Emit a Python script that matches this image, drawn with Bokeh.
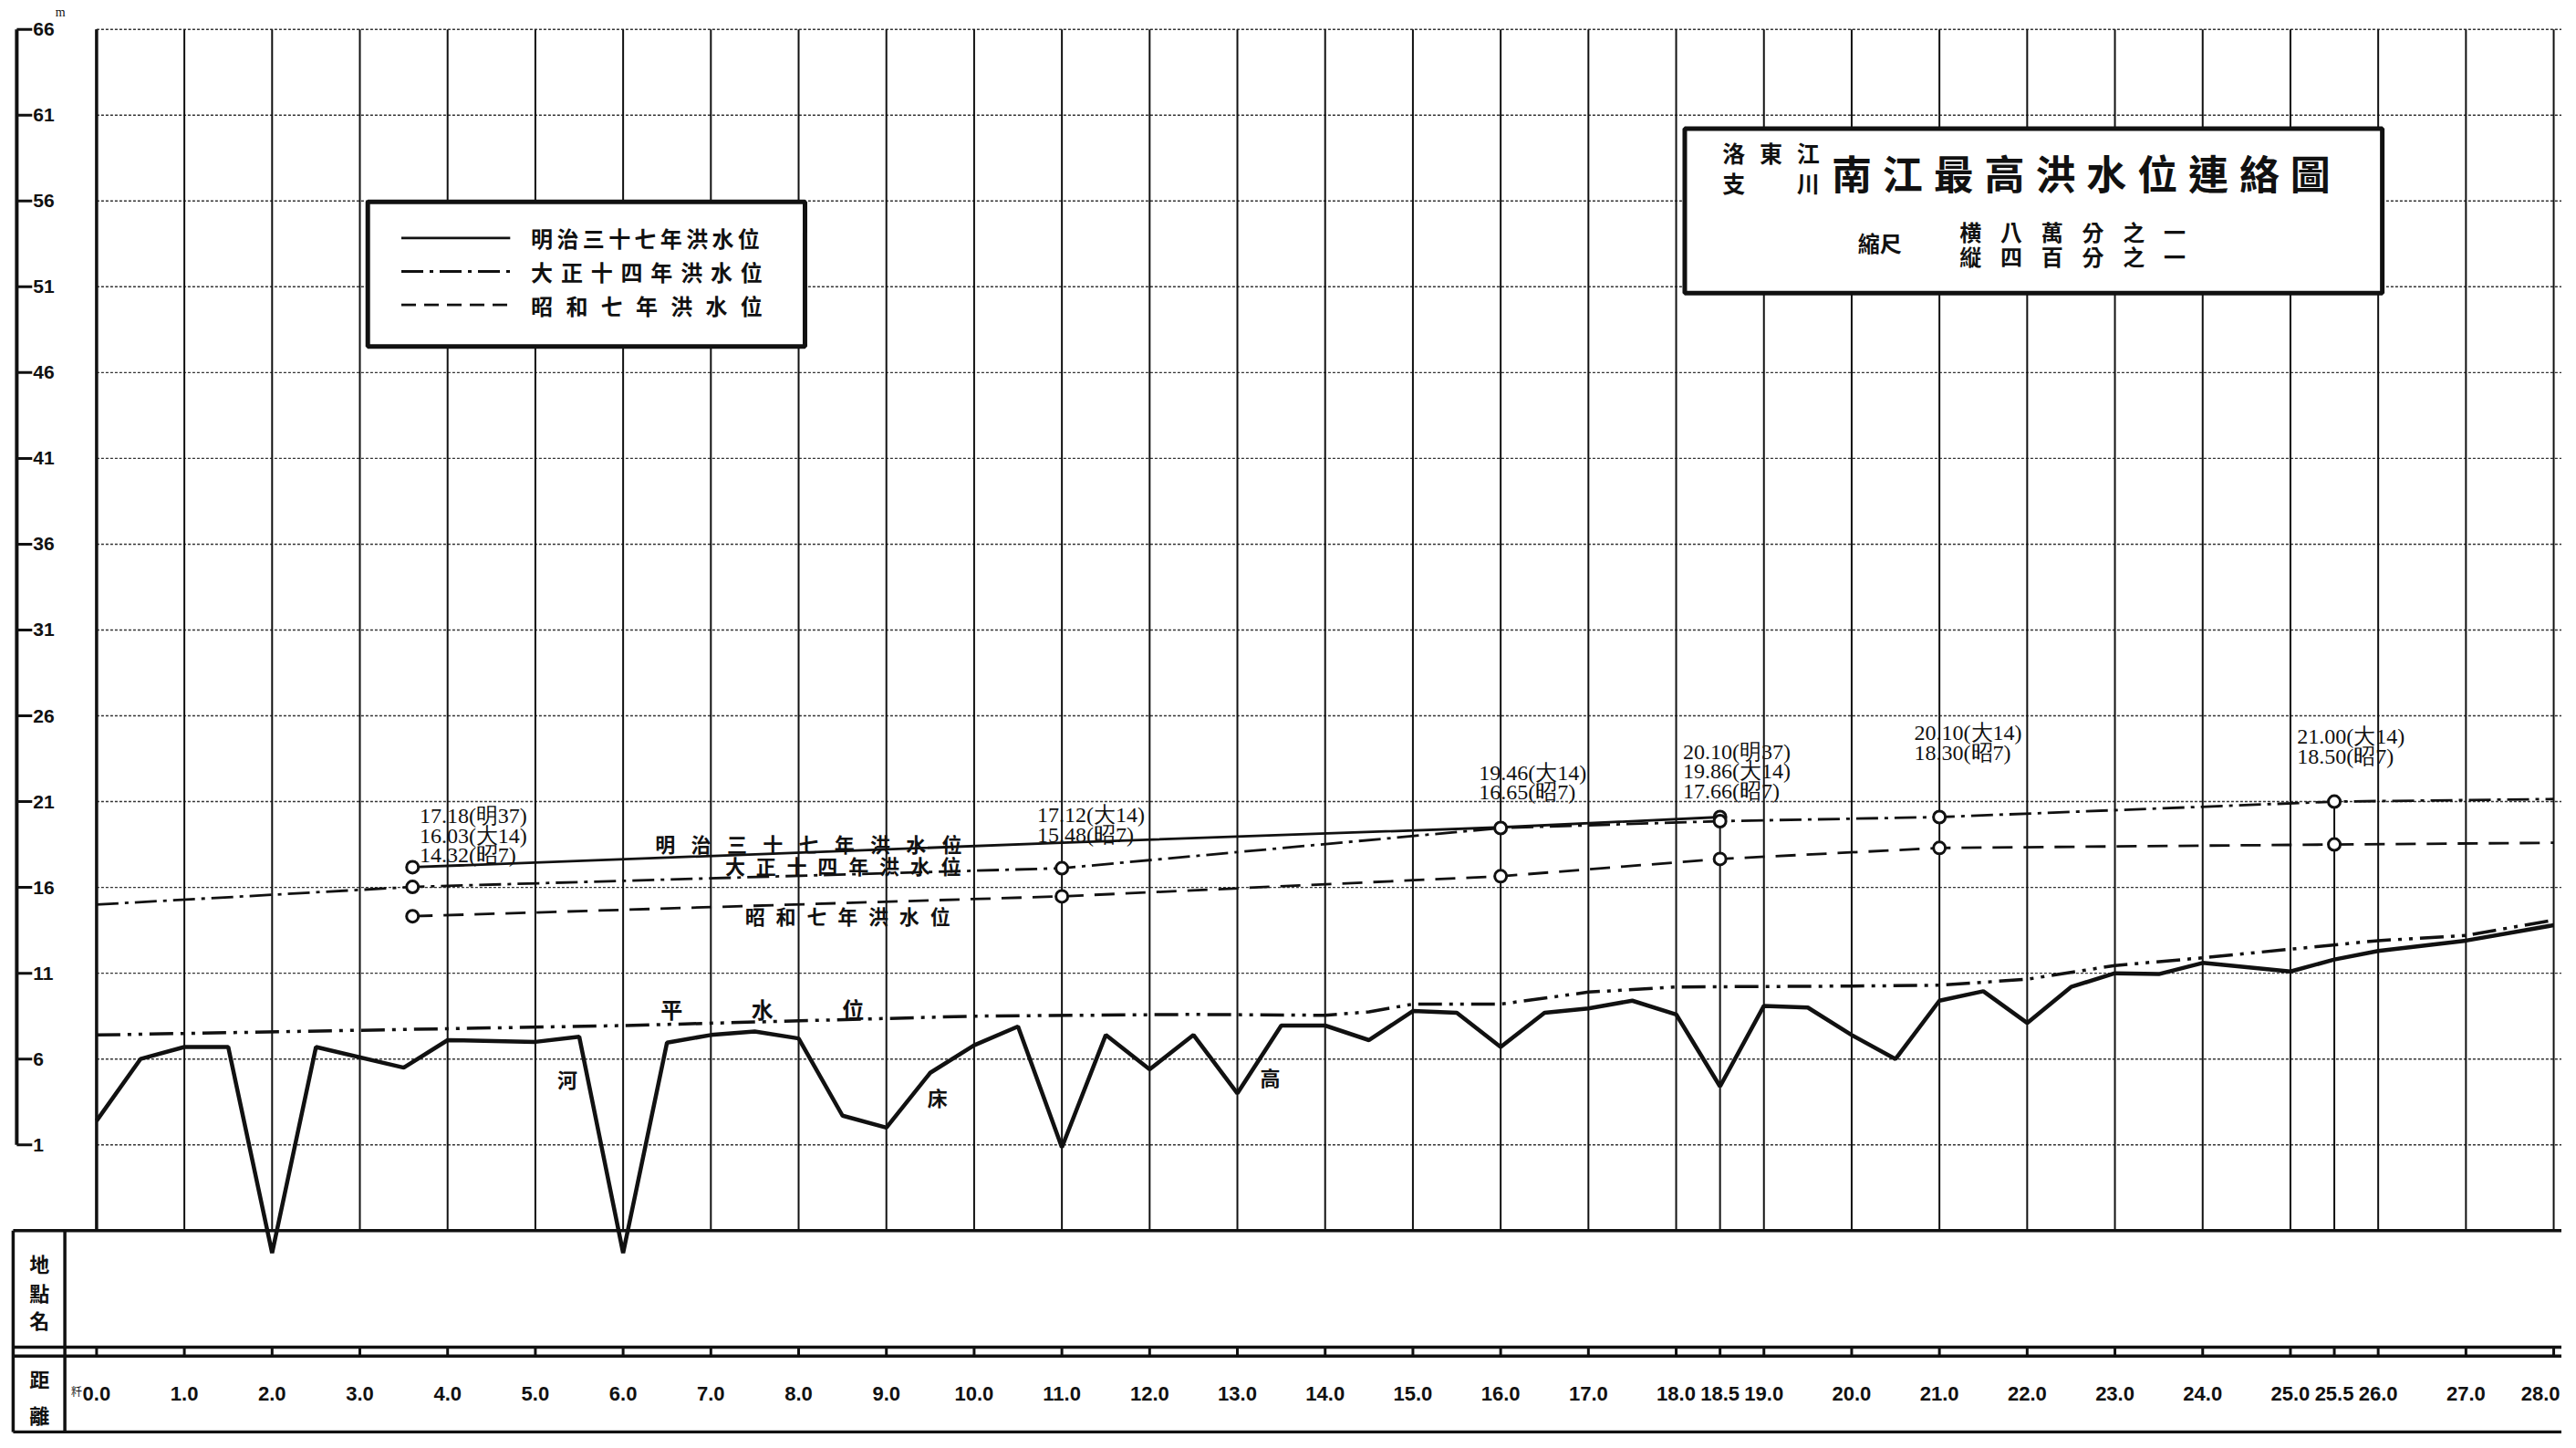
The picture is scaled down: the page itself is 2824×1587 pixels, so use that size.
import numpy as np
from bokeh.plotting import figure
from bokeh.models import Range1d
from bokeh.core.properties import value
from bokeh.embed import file_html
from bokeh.resources import INLINE

# ---------------- data ----------------
y_ticks = [1, 6, 11, 16, 21, 26, 31, 36, 41, 46, 51, 56, 61, 66]
y_tick_labels = [str(v) for v in y_ticks]

dist_ticks = [0, 1, 2, 3, 4, 5, 6, 7, 8, 9, 10, 11, 12, 13, 14, 15, 16, 17, 18, 18.5,
              19, 20, 21, 22, 23, 24, 25, 25.5, 26, 27, 28]
dist_labels = ["%.1f" % d for d in dist_ticks]

# river bed (河床高)
bed_km = [0.0, 0.5, 1.0, 1.5, 2.0, 2.5, 3.5, 4.0, 5.0, 5.5, 6.0, 6.5, 7.0, 7.5, 8.0,
          8.5, 9.0, 9.5, 10.0, 10.5, 11.0, 11.5, 12.0, 12.5, 13.0, 13.5, 14.0, 14.5,
          15.0, 15.5, 16.0, 16.5, 17.0, 17.5, 18.0, 18.5, 19.0, 19.5, 20.0, 20.5,
          21.0, 21.5, 22.0, 22.5, 23.0, 23.5, 24.0, 25.0, 25.5, 26.0, 27.0, 28.0]
bed_m = [2.4, 6.0, 6.7, 6.7, -5.3, 6.7, 5.5, 7.1, 7.0, 7.3, -5.3, 6.95, 7.4, 7.6, 7.2,
         2.7, 2.0, 5.2, 6.8, 7.9, 0.85, 7.4, 5.4, 7.4, 4.0, 7.95, 7.95, 7.1,
         8.8, 8.7, 6.7, 8.7, 8.95, 9.4, 8.6, 4.4, 9.1, 9.0, 7.4, 6.0,
         9.4, 9.95, 8.1, 10.2, 11.0, 10.95, 11.6, 11.1, 11.8, 12.3, 12.9, 13.8]

# mean water level (平水位)
mean_km = [0.0, 6.0, 10.0, 12.5, 14.0, 14.5, 15.0, 16.0, 17.0, 18.0, 20.0, 21.0,
           22.0, 23.0, 24.0, 25.0, 26.0, 27.0, 28.0]
mean_m = [7.4, 7.95, 8.5, 8.6, 8.55, 8.75, 9.2, 9.2, 9.9, 10.2, 10.25, 10.3,
          10.65, 11.45, 11.9, 12.4, 12.9, 13.2, 14.1]

# flood of Meiji 37 (明治三十七年洪水位)
m37_km = [3.6, 11.0, 16.0, 18.5]
m37_m = [17.18, 18.6, 19.5, 20.10]
m37_pts_km = [3.6, 18.5]
m37_pts_m = [17.18, 20.10]

# flood of Taisho 14 (大正十四年洪水位)
t14_km = [0.0, 3.6, 11.0, 16.0, 18.5, 21.0, 25.5, 28.0]
t14_m = [15.0, 16.03, 17.12, 19.46, 19.86, 20.10, 21.00, 21.15]
t14_pts_km = [3.6, 11.0, 16.0, 18.5, 21.0, 25.5]
t14_pts_m = [16.03, 17.12, 19.46, 19.86, 20.10, 21.00]

# flood of Showa 7 (昭和七年洪水位)
s7_km = [3.6, 11.0, 16.0, 18.5, 21.0, 25.5, 28.0]
s7_m = [14.32, 15.48, 16.65, 17.66, 18.30, 18.50, 18.6]
s7_pts_km = [3.6, 11.0, 16.0, 18.5, 21.0, 25.5]
s7_pts_m = [14.32, 15.48, 16.65, 17.66, 18.30, 18.50]

# ---------------- layout helpers (reference pixel -> data) ----------------
def kx(px):
    return (px - 106.0) / 96.75

def my(py):
    return 1.0 + (1267.0 - py) / 19.0

CJK = "Noto Sans CJK TC"
SANS = "Liberation Sans"
SERIF = "Liberation Serif"
INK = "#111111"

p = figure(width=2808, height=1571,
           x_range=Range1d(kx(0), kx(2824)), y_range=Range1d(my(1587), my(0)),
           output_backend="svg", toolbar_location=None,
           x_axis_type=None, y_axis_type=None, min_border=0)
p.outline_line_color = None
p.background_fill_color = "white"
p.border_fill_color = "white"

X_END = kx(2824)
TOP = y_ticks[-1]
BOT = my(1362)

# horizontal grid (dotted)
p.multi_line(xs=[[0, X_END] for _ in y_ticks], ys=[[v, v] for v in y_ticks],
             line_color="#333333", line_width=1.4, line_dash="3 2")

# vertical grid at whole km
whole = [d for d in dist_ticks if float(d).is_integer()]
p.multi_line(xs=[[d, d] for d in whole], ys=[[BOT, TOP] for _ in whole],
             line_color=INK, line_width=2)
p.line([0, 0], [BOT, TOP], line_color=INK, line_width=3.5)

# half-km station verticals (from flood mark down)
half = [d for d in dist_ticks if not float(d).is_integer()]
half_top = [max([v for k, v in zip(t14_pts_km + m37_pts_km, t14_pts_m + m37_pts_m) if k == d]) for d in half]
p.multi_line(xs=[[d, d] for d in half], ys=[[BOT, t] for t in half_top],
             line_color=INK, line_width=2)

# bottom table frame
for yy in (1362, 1491, 1501, 1585):
    p.line([kx(14), X_END], [my(yy), my(yy)], line_color=INK, line_width=3.5)
for xx in (14, 71):
    p.line([kx(xx), kx(xx)], [my(1362), my(1585)], line_color=INK, line_width=3.5)
p.multi_line(xs=[[d, d] for d in dist_ticks], ys=[[my(1491), my(1501)] for _ in dist_ticks],
             line_color=INK, line_width=3)

# left y axis (drawn scale)
ax_x = kx(18)
p.line([ax_x, ax_x], [y_ticks[0], y_ticks[-1]], line_color=INK, line_width=4)
p.multi_line(xs=[[ax_x, kx(35)] for _ in y_ticks], ys=[[v, v] for v in y_ticks],
             line_color=INK, line_width=3)
p.text(x=[kx(36)] * len(y_ticks), y=y_ticks, text=y_tick_labels,
       text_font=value(SANS), text_font_size="21px", text_font_style="bold",
       text_align="left", text_baseline="middle", text_color=INK)
p.text(x=[kx(66)], y=[my(13)], text=["m"], text_font=value(SERIF),
       text_font_size="14px", text_align="center", text_baseline="middle", text_color=INK)

# distance labels (last one kept inside the page edge)
p.text(x=dist_ticks[:-1], y=[my(1543)] * (len(dist_ticks) - 1), text=dist_labels[:-1],
       text_font=value(SANS), text_font_size="22px", text_font_style="bold",
       text_align="center", text_baseline="middle", text_color=INK)
p.text(x=[kx(2822)], y=[my(1543)], text=dist_labels[-1:],
       text_font=value(SANS), text_font_size="22px", text_font_style="bold",
       text_align="right", text_baseline="middle", text_color=INK)
p.text(x=[kx(84)], y=[my(1540)], text=["粁"], text_font=value(CJK),
       text_font_size="12px", text_align="center", text_baseline="middle", text_color=INK)

def spaced(text, x0, pitch, y, size, bold=True):
    n = len(text)
    p.text(x=[kx(x0 + i * pitch) for i in range(n)], y=[my(y)] * n, text=list(text),
           text_font=value(CJK), text_font_size="%dpx" % size,
           text_font_style="bold" if bold else "normal",
           text_align="center", text_baseline="middle", text_color=INK)

# row headers (vertical)
for ch, yy in zip("地點名", (1398, 1430, 1460)):
    spaced(ch, 43, 0, yy, 22)
for ch, yy in zip("距離", (1525, 1565)):
    spaced(ch, 43, 0, yy, 22)

# ---------------- series ----------------
p.line(mean_km, mean_m, line_color=INK, line_width=3.5, line_dash="26 8 4 8 4 8")
p.line(bed_km, bed_m, line_color=INK, line_width=4.5)
p.line(m37_km, m37_m, line_color=INK, line_width=2.8)
p.line(t14_km, t14_m, line_color=INK, line_width=2.8, line_dash="24 7 4 7")
p.line(s7_km, s7_m, line_color=INK, line_width=2.8, line_dash="22 12")

ck = m37_pts_km + t14_pts_km + s7_pts_km
cm = m37_pts_m + t14_pts_m + s7_pts_m
p.scatter(ck, cm, marker="circle", size=13, fill_color="white", line_color=INK, line_width=3)

# value annotations at stations
stations = [3.6, 11.0, 16.0, 18.5, 21.0, 25.5]
ann_pos = [(462, 903), (1143, 902), (1630, 855), (1855, 832), (2110, 811), (2532, 815)]
for st, (ax0, ay0) in zip(stations, ann_pos):
    lines = []
    for pk, pm, tag in ((m37_pts_km, m37_pts_m, "明37"), (t14_pts_km, t14_pts_m, "大14"),
                        (s7_pts_km, s7_pts_m, "昭7")):
        for k, v in zip(pk, pm):
            if k == st:
                lines.append("%.2f(%s)" % (v, tag))
    p.text(x=[kx(ax0)] * len(lines), y=[my(ay0 + 21.5 * i) for i in range(len(lines))],
           text=lines, text_font=value(SERIF), text_font_size="24px",
           text_align="left", text_baseline="middle", text_color=INK)

# labels along lines
spaced("明治三十七年洪水位", 733, 39.5, 933, 22)
spaced("大正十四年洪水位", 810, 34, 957, 22)
spaced("昭和七年洪水位", 832, 34, 1013, 22)
spaced("平水位", 740, 100, 1116, 24)
p.text(x=[kx(625), kx(1033), kx(1400)], y=[my(1194), my(1214), my(1192)], text=["河", "床", "高"],
       text_font=value(CJK), text_font_size="22px", text_font_style="bold",
       text_align="center", text_baseline="middle", text_color=INK)

# ---------------- legend box ----------------
p.quad(left=[kx(405)], right=[kx(887)], top=[my(223)], bottom=[my(383)],
       fill_color="white", line_color=INK, line_width=5)
p.line([kx(442), kx(562)], [my(263), my(263)], line_color=INK, line_width=2.8)
p.line([kx(442), kx(562)], [my(300), my(300)], line_color=INK, line_width=2.8, line_dash="24 7 4 7")
p.line([kx(442), kx(562)], [my(337), my(337)], line_color=INK, line_width=2.8, line_dash="16 9")
spaced("明治三十七年洪水位", 597, 28.5, 263, 24)
spaced("大正十四年洪水位", 597, 33, 300, 24)
spaced("昭和七年洪水位", 597, 38.5, 337, 24)

# ---------------- title box ----------------
p.quad(left=[kx(1857)], right=[kx(2626)], top=[my(142)], bottom=[my(324)],
       fill_color="white", line_color=INK, line_width=5)
spaced("洛東江", 1911, 41, 168, 25)
spaced("支", 1911, 41, 202, 25)
spaced("川", 1993, 41, 202, 25)
spaced("南江最高洪水位連絡圖", 2041, 56.2, 190, 44)
p.text(x=[kx(2072)], y=[my(268)], text=["縮尺"], text_font=value(CJK), text_font_size="24px",
       text_font_style="bold", text_align="center", text_baseline="middle", text_color=INK)
spaced("横八萬分之一", 2172, 45, 256, 24)
spaced("縦四百分之一", 2172, 45, 283, 24)

open("out.html", "w").write(file_html(p, INLINE))
